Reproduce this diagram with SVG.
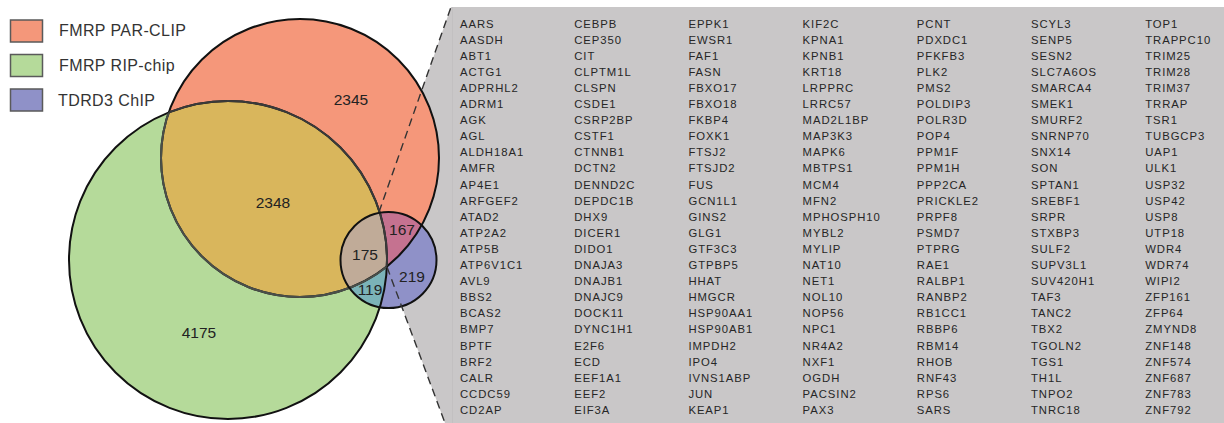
<svg xmlns="http://www.w3.org/2000/svg" width="1224" height="423" viewBox="0 0 1224 423">
<style>
.lg{font-family:"Liberation Sans",Arial,sans-serif;font-size:16px;fill:#333;letter-spacing:0.4px}
.num{font-family:"Liberation Sans",Arial,sans-serif;font-size:15.5px;fill:#222;text-anchor:middle}
.gene{font-family:"Liberation Sans",Arial,sans-serif;font-size:11.3px;fill:#262626;letter-spacing:0.95px}
.box{stroke:#5a5a5a;stroke-width:1.5}
.dash{fill:none;stroke:#333;stroke-width:1.4;stroke-dasharray:8 5}
</style>
<defs>
<clipPath id="cR"><circle cx="300" cy="158" r="139"/></clipPath>
<clipPath id="cG"><circle cx="228" cy="260" r="159"/></clipPath>
</defs>
<rect width="1224" height="423" fill="#fff"/>
<g id="panel">
<polygon points="451,7 1224,7 1224,423 445,423 387,267 379,212" fill="#c9c7c8"/>
<line x1="452.5" y1="7" x2="452.5" y2="423" stroke="#c2c0c1" stroke-width="1"/>
</g>
<g id="legend">
<g id="legend-parclip"><rect class="box" x="10.5" y="20" width="32" height="22" fill="#f4977a"/><text class="lg" x="59" y="36">FMRP PAR-CLIP</text></g>
<g id="legend-ripchip"><rect class="box" x="10.5" y="54.5" width="32" height="22" fill="#b5da9a"/><text class="lg" x="59" y="71">FMRP RIP-chip</text></g>
<g id="legend-chip"><rect class="box" x="10.5" y="89" width="32" height="22" fill="#8f91c8"/><text class="lg" x="58" y="106">TDRD3 ChIP</text></g>
</g>
<g id="venn">
<circle cx="228" cy="260" r="159" fill="#b5da9a"/>
<circle cx="300" cy="158" r="139" fill="#f5977a"/>
<circle cx="300" cy="158" r="139" fill="#d9b65c" clip-path="url(#cG)"/>
<circle cx="388.5" cy="260" r="48" fill="#8f91c8"/>
<circle cx="388.5" cy="260" r="48" fill="#c57290" clip-path="url(#cR)"/>
<circle cx="388.5" cy="260" r="48" fill="#7bb3b8" clip-path="url(#cG)"/>
<g clip-path="url(#cG)"><circle cx="388.5" cy="260" r="48" fill="#c0ab98" clip-path="url(#cR)"/></g>
<circle cx="228" cy="260" r="159" fill="none" stroke="#111" stroke-width="2"/>
<circle cx="300" cy="158" r="139" fill="none" stroke="#111" stroke-width="2"/>
<circle cx="300" cy="158" r="139" fill="none" stroke="#4a4f4a" stroke-width="2" clip-path="url(#cG)"/>
<circle cx="228" cy="260" r="159" fill="none" stroke="#3a3a3a" stroke-width="2" clip-path="url(#cR)"/>
<circle cx="388.5" cy="260" r="48" fill="none" stroke="#111" stroke-width="2"/>
<text class="num" x="351" y="105">2345</text>
<text class="num" x="273" y="208">2348</text>
<text class="num" x="199" y="338">4175</text>
<text class="num" x="365" y="260">175</text>
<text class="num" x="402" y="235">167</text>
<text class="num" x="412" y="282">219</text>
<text class="num" x="370" y="295">119</text>
</g>
<g id="connectors">
<line class="dash" x1="379" y1="212" x2="451" y2="7"/>
<line class="dash" x1="387" y1="267" x2="445" y2="423"/>
</g>
<g id="genes">
<text class="gene" id="col1"><tspan x="460" y="27.5">AARS</tspan><tspan x="460" dy="16.1">AASDH</tspan><tspan x="460" dy="16.1">ABT1</tspan><tspan x="460" dy="16.1">ACTG1</tspan><tspan x="460" dy="16.1">ADPRHL2</tspan><tspan x="460" dy="16.1">ADRM1</tspan><tspan x="460" dy="16.1">AGK</tspan><tspan x="460" dy="16.1">AGL</tspan><tspan x="460" dy="16.1">ALDH18A1</tspan><tspan x="460" dy="16.1">AMFR</tspan><tspan x="460" dy="16.1">AP4E1</tspan><tspan x="460" dy="16.1">ARFGEF2</tspan><tspan x="460" dy="16.1">ATAD2</tspan><tspan x="460" dy="16.1">ATP2A2</tspan><tspan x="460" dy="16.1">ATP5B</tspan><tspan x="460" dy="16.1">ATP6V1C1</tspan><tspan x="460" dy="16.1">AVL9</tspan><tspan x="460" dy="16.1">BBS2</tspan><tspan x="460" dy="16.1">BCAS2</tspan><tspan x="460" dy="16.1">BMP7</tspan><tspan x="460" dy="16.1">BPTF</tspan><tspan x="460" dy="16.1">BRF2</tspan><tspan x="460" dy="16.1">CALR</tspan><tspan x="460" dy="16.1">CCDC59</tspan><tspan x="460" dy="16.1">CD2AP</tspan></text>
<text class="gene" id="col2"><tspan x="574.2" y="27.5">CEBPB</tspan><tspan x="574.2" dy="16.1">CEP350</tspan><tspan x="574.2" dy="16.1">CIT</tspan><tspan x="574.2" dy="16.1">CLPTM1L</tspan><tspan x="574.2" dy="16.1">CLSPN</tspan><tspan x="574.2" dy="16.1">CSDE1</tspan><tspan x="574.2" dy="16.1">CSRP2BP</tspan><tspan x="574.2" dy="16.1">CSTF1</tspan><tspan x="574.2" dy="16.1">CTNNB1</tspan><tspan x="574.2" dy="16.1">DCTN2</tspan><tspan x="574.2" dy="16.1">DENND2C</tspan><tspan x="574.2" dy="16.1">DEPDC1B</tspan><tspan x="574.2" dy="16.1">DHX9</tspan><tspan x="574.2" dy="16.1">DICER1</tspan><tspan x="574.2" dy="16.1">DIDO1</tspan><tspan x="574.2" dy="16.1">DNAJA3</tspan><tspan x="574.2" dy="16.1">DNAJB1</tspan><tspan x="574.2" dy="16.1">DNAJC9</tspan><tspan x="574.2" dy="16.1">DOCK11</tspan><tspan x="574.2" dy="16.1">DYNC1H1</tspan><tspan x="574.2" dy="16.1">E2F6</tspan><tspan x="574.2" dy="16.1">ECD</tspan><tspan x="574.2" dy="16.1">EEF1A1</tspan><tspan x="574.2" dy="16.1">EEF2</tspan><tspan x="574.2" dy="16.1">EIF3A</tspan></text>
<text class="gene" id="col3"><tspan x="688.4" y="27.5">EPPK1</tspan><tspan x="688.4" dy="16.1">EWSR1</tspan><tspan x="688.4" dy="16.1">FAF1</tspan><tspan x="688.4" dy="16.1">FASN</tspan><tspan x="688.4" dy="16.1">FBXO17</tspan><tspan x="688.4" dy="16.1">FBXO18</tspan><tspan x="688.4" dy="16.1">FKBP4</tspan><tspan x="688.4" dy="16.1">FOXK1</tspan><tspan x="688.4" dy="16.1">FTSJ2</tspan><tspan x="688.4" dy="16.1">FTSJD2</tspan><tspan x="688.4" dy="16.1">FUS</tspan><tspan x="688.4" dy="16.1">GCN1L1</tspan><tspan x="688.4" dy="16.1">GINS2</tspan><tspan x="688.4" dy="16.1">GLG1</tspan><tspan x="688.4" dy="16.1">GTF3C3</tspan><tspan x="688.4" dy="16.1">GTPBP5</tspan><tspan x="688.4" dy="16.1">HHAT</tspan><tspan x="688.4" dy="16.1">HMGCR</tspan><tspan x="688.4" dy="16.1">HSP90AA1</tspan><tspan x="688.4" dy="16.1">HSP90AB1</tspan><tspan x="688.4" dy="16.1">IMPDH2</tspan><tspan x="688.4" dy="16.1">IPO4</tspan><tspan x="688.4" dy="16.1">IVNS1ABP</tspan><tspan x="688.4" dy="16.1">JUN</tspan><tspan x="688.4" dy="16.1">KEAP1</tspan></text>
<text class="gene" id="col4"><tspan x="802.6" y="27.5">KIF2C</tspan><tspan x="802.6" dy="16.1">KPNA1</tspan><tspan x="802.6" dy="16.1">KPNB1</tspan><tspan x="802.6" dy="16.1">KRT18</tspan><tspan x="802.6" dy="16.1">LRPPRC</tspan><tspan x="802.6" dy="16.1">LRRC57</tspan><tspan x="802.6" dy="16.1">MAD2L1BP</tspan><tspan x="802.6" dy="16.1">MAP3K3</tspan><tspan x="802.6" dy="16.1">MAPK6</tspan><tspan x="802.6" dy="16.1">MBTPS1</tspan><tspan x="802.6" dy="16.1">MCM4</tspan><tspan x="802.6" dy="16.1">MFN2</tspan><tspan x="802.6" dy="16.1">MPHOSPH10</tspan><tspan x="802.6" dy="16.1">MYBL2</tspan><tspan x="802.6" dy="16.1">MYLIP</tspan><tspan x="802.6" dy="16.1">NAT10</tspan><tspan x="802.6" dy="16.1">NET1</tspan><tspan x="802.6" dy="16.1">NOL10</tspan><tspan x="802.6" dy="16.1">NOP56</tspan><tspan x="802.6" dy="16.1">NPC1</tspan><tspan x="802.6" dy="16.1">NR4A2</tspan><tspan x="802.6" dy="16.1">NXF1</tspan><tspan x="802.6" dy="16.1">OGDH</tspan><tspan x="802.6" dy="16.1">PACSIN2</tspan><tspan x="802.6" dy="16.1">PAX3</tspan></text>
<text class="gene" id="col5"><tspan x="916.8" y="27.5">PCNT</tspan><tspan x="916.8" dy="16.1">PDXDC1</tspan><tspan x="916.8" dy="16.1">PFKFB3</tspan><tspan x="916.8" dy="16.1">PLK2</tspan><tspan x="916.8" dy="16.1">PMS2</tspan><tspan x="916.8" dy="16.1">POLDIP3</tspan><tspan x="916.8" dy="16.1">POLR3D</tspan><tspan x="916.8" dy="16.1">POP4</tspan><tspan x="916.8" dy="16.1">PPM1F</tspan><tspan x="916.8" dy="16.1">PPM1H</tspan><tspan x="916.8" dy="16.1">PPP2CA</tspan><tspan x="916.8" dy="16.1">PRICKLE2</tspan><tspan x="916.8" dy="16.1">PRPF8</tspan><tspan x="916.8" dy="16.1">PSMD7</tspan><tspan x="916.8" dy="16.1">PTPRG</tspan><tspan x="916.8" dy="16.1">RAE1</tspan><tspan x="916.8" dy="16.1">RALBP1</tspan><tspan x="916.8" dy="16.1">RANBP2</tspan><tspan x="916.8" dy="16.1">RB1CC1</tspan><tspan x="916.8" dy="16.1">RBBP6</tspan><tspan x="916.8" dy="16.1">RBM14</tspan><tspan x="916.8" dy="16.1">RHOB</tspan><tspan x="916.8" dy="16.1">RNF43</tspan><tspan x="916.8" dy="16.1">RPS6</tspan><tspan x="916.8" dy="16.1">SARS</tspan></text>
<text class="gene" id="col6"><tspan x="1031" y="27.5">SCYL3</tspan><tspan x="1031" dy="16.1">SENP5</tspan><tspan x="1031" dy="16.1">SESN2</tspan><tspan x="1031" dy="16.1">SLC7A6OS</tspan><tspan x="1031" dy="16.1">SMARCA4</tspan><tspan x="1031" dy="16.1">SMEK1</tspan><tspan x="1031" dy="16.1">SMURF2</tspan><tspan x="1031" dy="16.1">SNRNP70</tspan><tspan x="1031" dy="16.1">SNX14</tspan><tspan x="1031" dy="16.1">SON</tspan><tspan x="1031" dy="16.1">SPTAN1</tspan><tspan x="1031" dy="16.1">SREBF1</tspan><tspan x="1031" dy="16.1">SRPR</tspan><tspan x="1031" dy="16.1">STXBP3</tspan><tspan x="1031" dy="16.1">SULF2</tspan><tspan x="1031" dy="16.1">SUPV3L1</tspan><tspan x="1031" dy="16.1">SUV420H1</tspan><tspan x="1031" dy="16.1">TAF3</tspan><tspan x="1031" dy="16.1">TANC2</tspan><tspan x="1031" dy="16.1">TBX2</tspan><tspan x="1031" dy="16.1">TGOLN2</tspan><tspan x="1031" dy="16.1">TGS1</tspan><tspan x="1031" dy="16.1">TH1L</tspan><tspan x="1031" dy="16.1">TNPO2</tspan><tspan x="1031" dy="16.1">TNRC18</tspan></text>
<text class="gene" id="col7"><tspan x="1145.2" y="27.5">TOP1</tspan><tspan x="1145.2" dy="16.1">TRAPPC10</tspan><tspan x="1145.2" dy="16.1">TRIM25</tspan><tspan x="1145.2" dy="16.1">TRIM28</tspan><tspan x="1145.2" dy="16.1">TRIM37</tspan><tspan x="1145.2" dy="16.1">TRRAP</tspan><tspan x="1145.2" dy="16.1">TSR1</tspan><tspan x="1145.2" dy="16.1">TUBGCP3</tspan><tspan x="1145.2" dy="16.1">UAP1</tspan><tspan x="1145.2" dy="16.1">ULK1</tspan><tspan x="1145.2" dy="16.1">USP32</tspan><tspan x="1145.2" dy="16.1">USP42</tspan><tspan x="1145.2" dy="16.1">USP8</tspan><tspan x="1145.2" dy="16.1">UTP18</tspan><tspan x="1145.2" dy="16.1">WDR4</tspan><tspan x="1145.2" dy="16.1">WDR74</tspan><tspan x="1145.2" dy="16.1">WIPI2</tspan><tspan x="1145.2" dy="16.1">ZFP161</tspan><tspan x="1145.2" dy="16.1">ZFP64</tspan><tspan x="1145.2" dy="16.1">ZMYND8</tspan><tspan x="1145.2" dy="16.1">ZNF148</tspan><tspan x="1145.2" dy="16.1">ZNF574</tspan><tspan x="1145.2" dy="16.1">ZNF687</tspan><tspan x="1145.2" dy="16.1">ZNF783</tspan><tspan x="1145.2" dy="16.1">ZNF792</tspan></text>
</g>
</svg>
